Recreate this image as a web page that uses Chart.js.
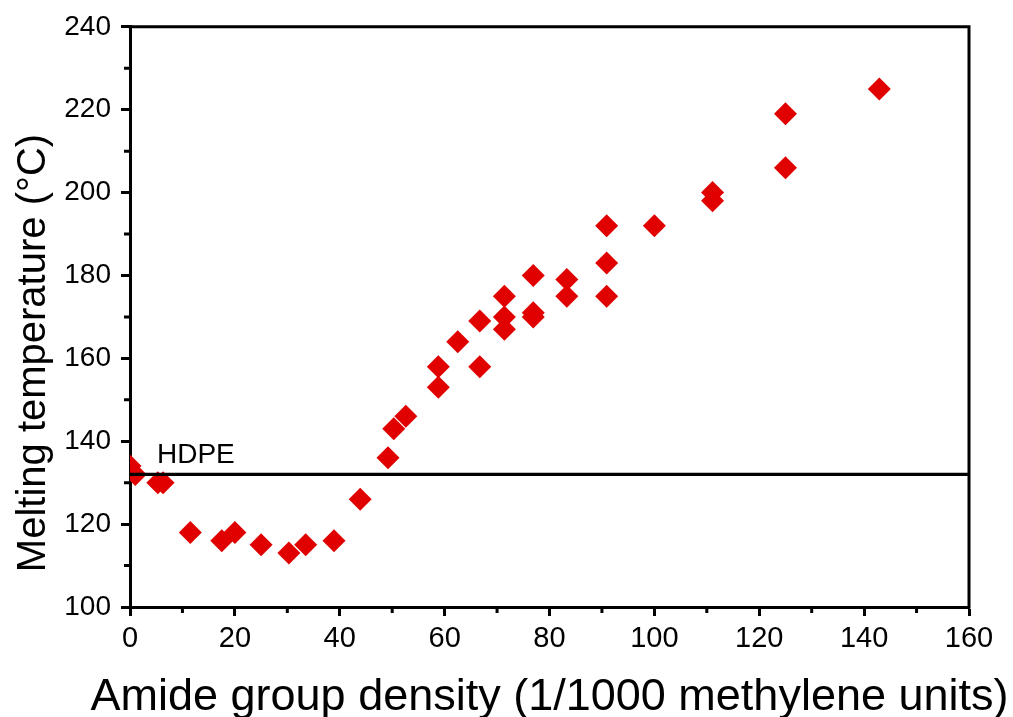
<!DOCTYPE html>
<html><head><meta charset="utf-8">
<script src="https://cdn.jsdelivr.net/npm/chart.js@4.4.1/dist/chart.umd.min.js"></script>
<style>html,body{margin:0;padding:0;background:#fff;overflow:hidden}#wrap{width:1013px;height:717px}</style>
</head><body><div id="wrap"><canvas id="c" width="1013" height="717"></canvas></div>
<script>
// ---- data ----
const densityX = [0, 1, 5.3, 6.3, 11.5, 17.5, 20, 25, 30.3, 33.5, 38.9, 43.9, 49.2, 50.3, 52.6, 58.8, 58.8, 62.5, 66.7, 66.7, 71.4, 71.4, 71.4, 76.9, 76.9, 76.9, 83.3, 83.3, 90.9, 90.9, 90.9, 100, 111.1, 111.1, 125, 125, 142.9];
const meltingY = [134, 132, 130, 130, 118, 116, 118, 115, 113, 115, 116, 126, 136, 143, 146, 153, 158, 164, 169, 158, 175, 170, 167, 180, 171, 170, 179, 175, 192, 183, 175, 192, 200, 198, 219, 206, 225];
const hdpeX = [0, 160];
const hdpeY = [132, 132];
const hdpeLabel = 'HDPE';
const xMajorTicks = [0, 20, 40, 60, 80, 100, 120, 140, 160];
const xMinorTicks = [10, 30, 50, 70, 90, 110, 130, 150];
const yMajorTicks = [100, 120, 140, 160, 180, 200, 220, 240];
const yMinorTicks = [110, 130, 150, 170, 190, 210, 230];
const xTitle = 'Amide group density (1/1000 methylene units)';
const yTitle = 'Melting temperature (°C)';

const FONT = '"Liberation Sans", Arial, Helvetica, sans-serif';
Chart.defaults.font.family = FONT;
Chart.defaults.color = '#000';

const scatterPts = densityX.map((x, i) => ({x: x, y: meltingY[i]}));
const hdpePts = hdpeX.map((x, i) => ({x: x, y: hdpeY[i]}));

const decor = {
  id: 'decor',
  afterDraw(chart) {
    const ctx = chart.ctx, a = chart.chartArea;
    const xs = chart.scales.x, ys = chart.scales.y;
    ctx.save();
    // top & right frame
    ctx.strokeStyle = '#000'; ctx.lineWidth = 3; ctx.lineCap = 'square';
    ctx.beginPath();
    ctx.moveTo(a.left, a.top); ctx.lineTo(a.right, a.top); ctx.lineTo(a.right, a.bottom);
    ctx.stroke();
    // minor ticks
    ctx.lineCap = 'butt';
    ctx.beginPath();
    xMinorTicks.forEach(v => { const p = xs.getPixelForValue(v); ctx.moveTo(p, a.bottom); ctx.lineTo(p, a.bottom + 6); });
    yMinorTicks.forEach(v => { const p = ys.getPixelForValue(v); ctx.moveTo(a.left, p); ctx.lineTo(a.left - 6, p); });
    ctx.stroke();
    // HDPE label
    ctx.fillStyle = '#000';
    ctx.font = '28px ' + FONT;
    ctx.textAlign = 'left'; ctx.textBaseline = 'alphabetic';
    ctx.fillText(hdpeLabel, xs.getPixelForValue(0) + 27, ys.getPixelForValue(hdpeY[0]) - 11);
    // x title
    ctx.font = '45px ' + FONT;
    ctx.textAlign = 'center';
    ctx.fillText(xTitle, (a.left + a.right) / 2, 710);
    // y title
    ctx.font = '40px ' + FONT;
    ctx.translate(45, 353);
    ctx.rotate(-Math.PI / 2);
    ctx.textAlign = 'center';
    ctx.fillText(yTitle, 0, 0);
    ctx.restore();
  }
};

new Chart(document.getElementById('c'), {
  type: 'scatter',
  data: {
    datasets: [
      {
        type: 'line', label: hdpeLabel, data: hdpePts,
        borderColor: '#000', borderWidth: 3.3, pointRadius: 0, fill: false, tension: 0
      },
      {
        label: 'Melting temperature', data: scatterPts,
        pointStyle: 'rectRot', pointRadius: 11.5, pointHoverRadius: 11.5,
        backgroundColor: '#E00000', borderColor: '#E00000', borderWidth: 0, clip: 0
      }
    ]
  },
  options: {
    responsive: false, animation: false, devicePixelRatio: 1,
    layout: {padding: {left: 0, top: 26, right: 44, bottom: 0}},
    plugins: {legend: {display: false}, tooltip: {enabled: false}},
    scales: {
      x: {
        type: 'linear', min: 0, max: 160,
        afterBuildTicks: s => { s.ticks = xMajorTicks.map(v => ({value: v})); },
        afterFit: s => { s.height = 110; },
        ticks: {font: {size: 29}, color: '#000', padding: 6, maxRotation: 0},
        grid: {drawOnChartArea: false, tickLength: 9, tickWidth: 3, tickColor: '#000'},
        border: {display: true, width: 3, color: '#000'}
      },
      y: {
        type: 'linear', min: 100, max: 240,
        afterBuildTicks: s => { s.ticks = yMajorTicks.map(v => ({value: v})); },
        afterFit: s => { s.width = 130; },
        ticks: {font: {size: 28}, color: '#000', padding: 10},
        grid: {drawOnChartArea: false, tickLength: 9, tickWidth: 3, tickColor: '#000'},
        border: {display: true, width: 3, color: '#000'}
      }
    }
  },
  plugins: [decor]
});
</script>
</body></html>
